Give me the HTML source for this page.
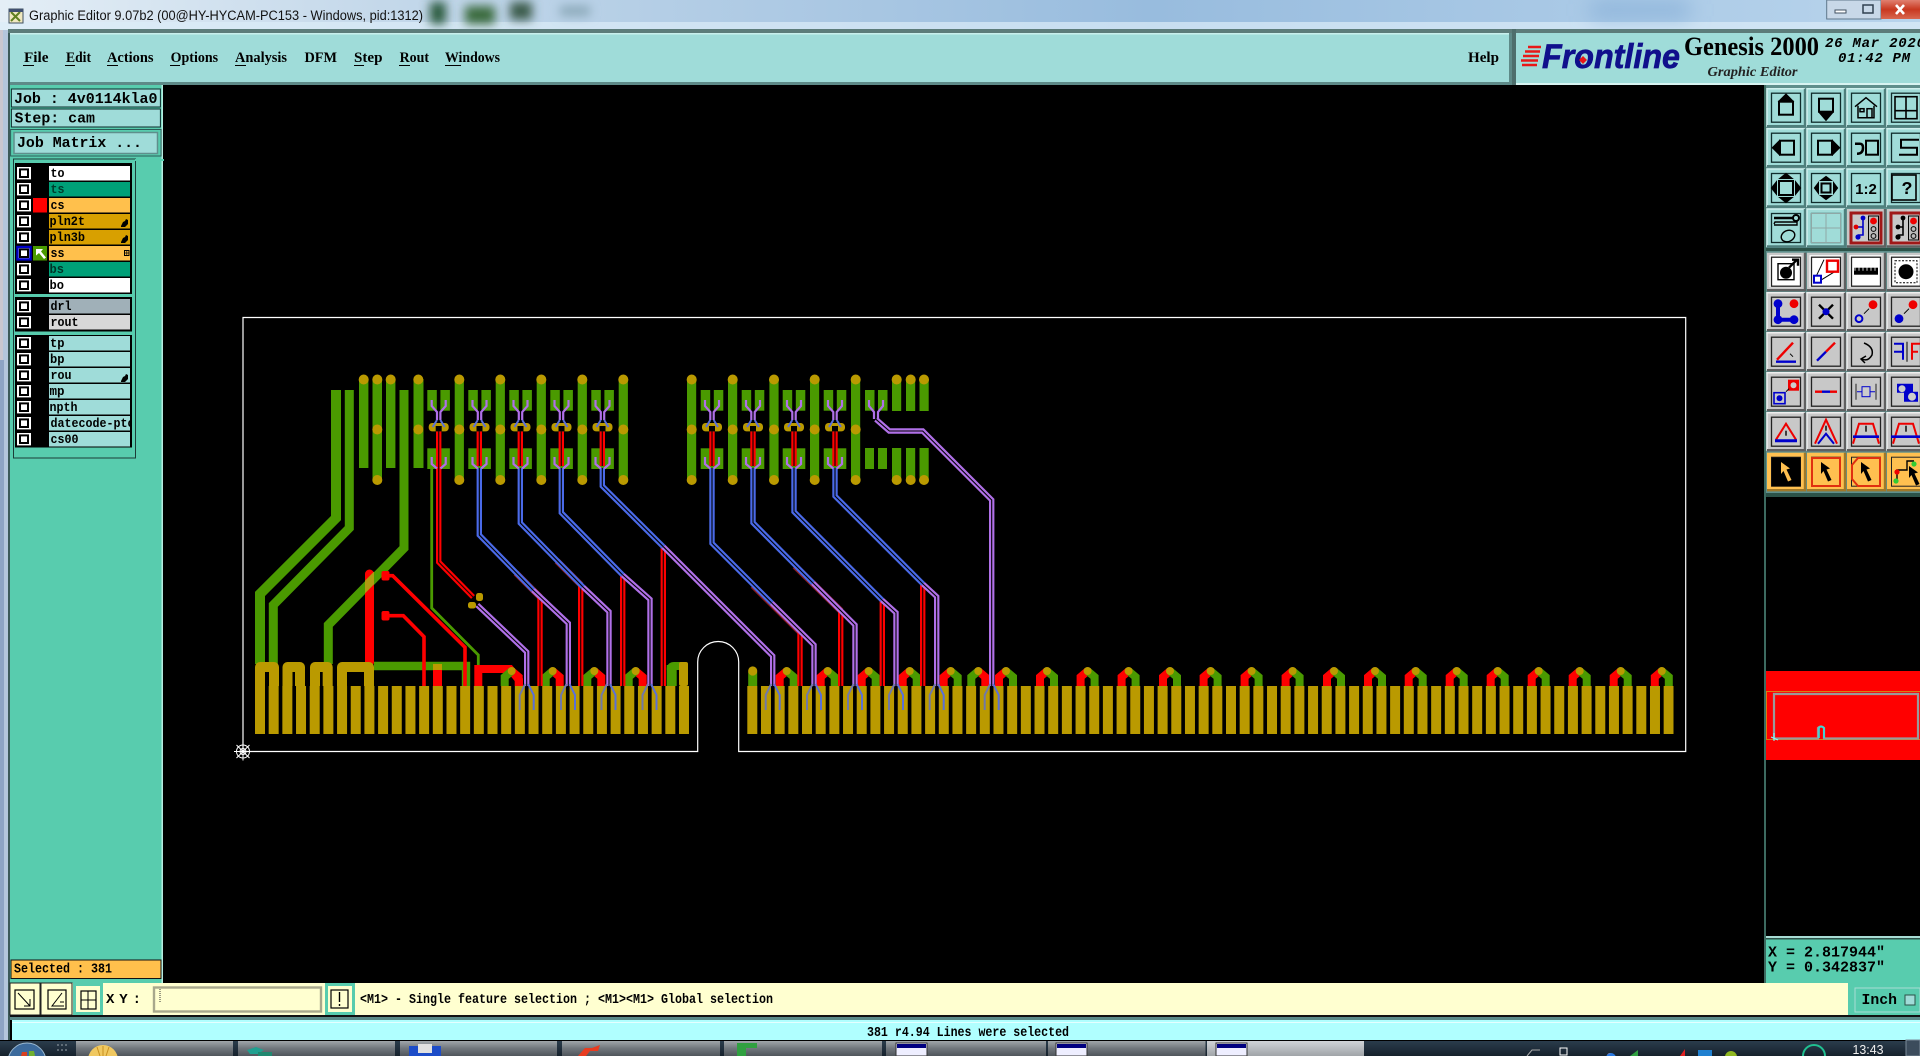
<!DOCTYPE html>
<html><head><meta charset="utf-8"><title>Graphic Editor</title>
<style>
html,body{margin:0;padding:0;background:#000;width:1920px;height:1056px;overflow:hidden}
svg{display:block}
.m{font-family:"Liberation Serif",serif;font-weight:bold;font-size:15px;fill:#000}
.c{font-family:"Liberation Mono",monospace;font-weight:bold;fill:#000}
.l{font-size:13px}
.n{fill:none}
</style></head><body>
<svg xmlns="http://www.w3.org/2000/svg" width="1920" height="1056" viewBox="0 0 1920 1056">
<defs>
<linearGradient id="tl" x1="0" y1="0" x2="1" y2="0"><stop offset="0" stop-color="#e4eef6"/><stop offset=".2" stop-color="#c4d8ea"/><stop offset=".6" stop-color="#98bcde"/><stop offset="1" stop-color="#b8d4ec"/></linearGradient>
<linearGradient id="tk" x1="0" y1="0" x2="0" y2="1"><stop offset="0" stop-color="#2c3e4e"/><stop offset="1" stop-color="#16212c"/></linearGradient>
<linearGradient id="tbb" x1="0" y1="0" x2="0" y2="1"><stop offset="0" stop-color="#a0a6aa"/><stop offset=".5" stop-color="#70767c"/><stop offset="1" stop-color="#50565c"/></linearGradient>
<linearGradient id="tbl" x1="0" y1="0" x2="0" y2="1"><stop offset="0" stop-color="#d0d4d8"/><stop offset="1" stop-color="#a0a4a8"/></linearGradient>
<linearGradient id="cl" x1="0" y1="0" x2="0" y2="1"><stop offset="0" stop-color="#e08070"/><stop offset=".5" stop-color="#c83820"/><stop offset="1" stop-color="#d86850"/></linearGradient>
<filter id="bl" x="-50%" y="-50%" width="200%" height="200%"><feGaussianBlur stdDeviation="5"/></filter>
<filter id="bl2" x="-50%" y="-100%" width="200%" height="300%"><feGaussianBlur stdDeviation="10"/></filter>
<clipPath id="lc"><rect x="49" y="160" width="81" height="290"/></clipPath>

<g id="cb"><rect x="0" y="0" width="14" height="12.4" fill="#fff"/><rect x="3" y="2.4" width="8" height="7.6" fill="none" stroke="#000" stroke-width="2"/></g>

<g id="bT"><rect width="38" height="38" fill="#a0dcd8"/><path d="M0 38V0H38" fill="none" stroke="#d0f0ee" stroke-width="1.5"/><path d="M0 37.5H38V0" fill="none" stroke="#4f7f7c" stroke-width="2.4"/><rect x="4.5" y="4.5" width="29" height="29" fill="none" stroke="#102c2c" stroke-width="1.3"/></g>
<g id="bG"><rect width="38" height="38" fill="#c8c8c8"/><path d="M0 38V0H38" fill="none" stroke="#eee" stroke-width="1.5"/><path d="M0 37.5H38V0" fill="none" stroke="#606060" stroke-width="2.4"/><rect x="4.5" y="4.5" width="29" height="29" fill="none" stroke="#222" stroke-width="1.3"/></g>
<g id="bW"><rect width="38" height="38" fill="#c8c8c8"/><path d="M0 37.5H38V0" fill="none" stroke="#606060" stroke-width="2.4"/><rect x="2.5" y="2.5" width="32" height="32" fill="#fff"/><rect x="4.5" y="4.5" width="29" height="29" fill="#fff" stroke="#222" stroke-width="1.3"/></g>
<g id="bO"><rect width="38" height="38" fill="#ffc050"/><path d="M0 37.5H38V0" fill="none" stroke="#a07828" stroke-width="2.4"/><rect x="4.5" y="4.5" width="29" height="29" fill="none" stroke="#222"/></g>
<g id="bR"><rect width="38" height="38" fill="#c8c8c8"/><path d="M0 37.5H38V0" fill="none" stroke="#606060" stroke-width="2.4"/><rect x="4" y="4" width="30" height="30" fill="none" stroke="#a01818" stroke-width="3"/></g>
<path id="ptr" d="M-5 -10L4 -3.5L0.5 -2.5L5.5 8L2 9.5L-2.5 -1L-5 2Z"/>

<g id="pu"><rect x="-11.3" y="390" width="9.5" height="20.7" fill="#4a9a00"/><rect x="1.8" y="390" width="9.5" height="20.7" fill="#4a9a00"/><rect x="-11.3" y="448.3" width="22.6" height="20.7" fill="#4a9a00"/></g>
<g id="pa">
<rect x="-10" y="423" width="20" height="8.4" rx="3.5" fill="#ba9a00"/><rect x="-3" y="426" width="6" height="5.4" fill="#000"/>
<path d="M-7 400V406L-1.7 412V420M7 400V406L1.7 412V420" class="n" stroke="#b070e8" stroke-width="2.2"/>
<path d="M-1.7 420L-6 427M1.7 420L6 427" class="n" stroke="#5a70d8" stroke-width="2"/>
<path d="M-7 457V464L-1.7 468.5M7 457V464L1.7 468.5" class="n" stroke="#b070e8" stroke-width="2.2"/>
</g>
<g id="fk"><path d="M-1.5 684L-7 695V710" class="n" stroke="#7078a8" stroke-width="2"/><path d="M1.5 684L7 695V710" class="n" stroke="#5a70d8" stroke-width="2"/></g>
<g id="au"><path d="M-7 686V677L0 671" class="n" stroke="#f00" stroke-width="8"/><path d="M7 686V677L0 671" class="n" stroke="#4a9a00" stroke-width="8"/><circle cx="0" cy="671" r="4" fill="#ba9a00"/></g>
<g id="ar"><path d="M7 686V677L0 671" class="n" stroke="#f00" stroke-width="8"/><path d="M-7 686V677L0 671" class="n" stroke="#4a9a00" stroke-width="8"/><circle cx="0" cy="671" r="4" fill="#ba9a00"/></g>

<g id="rp" fill="none">
<path d="M479.3 431V466M520.3 431V466M561.3 431V466M602.3 431V466M712 431V466M753 431V466M794 431V466M835 431V466"/>
<path d="M438.7 431V562L473 597"/>
<path d="M540 597V686"/>
<path d="M580.7 585V686"/>
<path d="M622.7 575V686"/>
<path d="M663.3 548V686"/>
<path d="M800 632V686"/>
<path d="M840.7 611V686"/>
<path d="M882.3 600.7V686"/>
<path d="M922.7 585V686"/>
</g>
<g id="pp" fill="none">
<path d="M477.3 605L526.7 652V686"/>
<path d="M533 590L568.3 623.3V686"/>
<path d="M583 587L609 611.7V686"/>
<path d="M622.7 575L650 599.3V686"/>
<path d="M663.3 546.7L772.7 656V686"/>
<path d="M771.7 603L814 645V686"/>
<path d="M813 583L855 625V686"/>
<path d="M882 600L896 612.7V686"/>
<path d="M923 584L936.7 596.7V686"/>
<path d="M876 419.3L889.3 431H922.7L991.7 500V686"/>
</g>
<g id="bp" fill="none">
<path d="M479.3 468V535L533 590"/>
<path d="M520.3 468V523L583 587"/>
<path d="M561.3 468V512.7L622.7 575"/>
<path d="M602.3 468V486L663.3 546.7"/>
<path d="M712 468V543.3L771.7 603"/>
<path d="M753 468V522.7L813 583"/>
<path d="M794 468V511.7L882 600"/>
<path d="M835 468V496L923 584"/>
</g>
</defs>

<!-- base -->
<rect width="1920" height="1056" fill="#000"/>
<rect width="1920" height="30" fill="url(#tl)"/>
<rect y="22" width="1920" height="8" fill="#dcecf8" opacity=".7"/>
<g filter="url(#bl)"><rect x="430" y="2" width="16" height="22" fill="#2a5a3c"/><rect x="465" y="6" width="30" height="18" fill="#3a6a3c"/><rect x="510" y="2" width="22" height="18" fill="#3a5a4a"/><rect x="560" y="6" width="30" height="10" fill="#8aa8b8"/></g>
<g filter="url(#bl2)"><rect x="1590" y="2" width="100" height="16" fill="#7ea8d4" opacity=".7"/></g>
<rect x="1826.7" y="0" width="54.3" height="19" fill="#c8d8e8" stroke="#60788c"/>
<rect x="1835" y="10" width="11" height="3" fill="#fff" stroke="#405060"/><rect x="1863" y="5" width="10" height="8" fill="none" stroke="#304050" stroke-width="1.5"/>
<rect x="1881" y="0" width="39" height="19" fill="url(#cl)"/>
<path d="M1896 5L1904 14M1904 5L1896 14" stroke="#fff" stroke-width="2.6"/>
<rect x="9" y="9" width="14" height="14" fill="#f0e8c0" stroke="#405060"/><path d="M11 12L20 21M20 12L11 21" stroke="#608020" stroke-width="2"/><rect x="9" y="9" width="14" height="3" fill="#405070"/>
<text x="29" y="20" font-family="Liberation Sans,sans-serif" font-size="13.5" fill="#111" textLength="394" lengthAdjust="spacingAndGlyphs">Graphic Editor 9.07b2 (00@HY-HYCAM-PC153 - Windows, pid:1312)</text>

<!-- left frame -->
<rect x="0" y="30" width="8" height="1010" fill="#b4c6dc"/>
<rect x="0" y="30" width="3" height="330" fill="#d8c8c8" opacity=".6"/>
<rect x="0" y="360" width="4" height="680" fill="#8ea4c4"/>
<rect x="8" y="30" width="2" height="1010" fill="#3c5a5a"/>

<!-- menu bar -->
<rect x="8" y="29" width="1912" height="4" fill="#5c7c7a"/>
<rect x="10" y="33" width="1502" height="51" fill="#9fdcd9"/>
<rect x="10" y="33" width="1502" height="1.5" fill="#c8efec"/>
<rect x="10" y="82" width="1502" height="3" fill="#5e8a88"/>
<rect x="1509" y="33" width="3" height="52" fill="#5e8a88"/>
<rect x="1512" y="29" width="4" height="56" fill="#4e6e6c"/>
<rect x="1516" y="33" width="404" height="51" fill="#9fdcd9"/>
<rect x="1516" y="83" width="404" height="2" fill="#d8f4f2"/>
<text class="m" x="24" y="62" textLength="24.5" lengthAdjust="spacingAndGlyphs">File</text>
<text class="m" x="66" y="62" textLength="25" lengthAdjust="spacingAndGlyphs">Edit</text>
<text class="m" x="107" y="62" textLength="46.5" lengthAdjust="spacingAndGlyphs">Actions</text>
<text class="m" x="170.6" y="62" textLength="47.5" lengthAdjust="spacingAndGlyphs">Options</text>
<text class="m" x="235" y="62" textLength="52" lengthAdjust="spacingAndGlyphs">Analysis</text>
<text class="m" x="304.5" y="62" textLength="32.5" lengthAdjust="spacingAndGlyphs">DFM</text>
<text class="m" x="354" y="62" textLength="28.5" lengthAdjust="spacingAndGlyphs">Step</text>
<text class="m" x="399.6" y="62" textLength="29.4" lengthAdjust="spacingAndGlyphs">Rout</text>
<text class="m" x="445" y="62" textLength="55" lengthAdjust="spacingAndGlyphs">Windows</text>
<path d="M23 65.5H34M65 65.5H75M107 65.5H118M170 65.5H180M235 65.5H246M354 65.5H364M399 65.5H410M445 65.5H461" stroke="#000" stroke-width="1"/>
<text class="m" x="1468" y="62" textLength="31" lengthAdjust="spacingAndGlyphs">Help</text>

<!-- logo -->
<path d="M1528 47H1541M1525 51.5H1540M1523 56H1539M1521 60.5H1538M1522 65H1537" stroke="#e81818" stroke-width="2.4"/>
<text x="1542" y="68" font-family="Liberation Sans,sans-serif" font-weight="bold" font-style="italic" font-size="34" fill="#10108c" stroke="#10108c" stroke-width=".7" textLength="138" lengthAdjust="spacingAndGlyphs">Frontline</text>
<path d="M1583 56L1587 60L1583 64L1579 60Z" fill="#e81818"/>
<text x="1684" y="55" font-family="Liberation Serif,serif" font-weight="bold" font-size="26" fill="#000" textLength="135" lengthAdjust="spacingAndGlyphs">Genesis 2000</text>
<text x="1707.5" y="76" font-family="Liberation Serif,serif" font-weight="bold" font-style="italic" font-size="14" fill="#222" textLength="90" lengthAdjust="spacingAndGlyphs">Graphic Editor</text>
<text class="c" x="1825" y="47" font-style="italic" font-size="14" textLength="100" lengthAdjust="spacing">26 Mar 2020</text>
<text class="c" x="1838" y="62" font-style="italic" font-size="14" textLength="72" lengthAdjust="spacing">01:42 PM</text>

<!-- left panel -->
<rect x="10" y="85" width="153" height="898" fill="#58ccae"/>
<rect x="161.5" y="85" width="1.5" height="898" fill="#b6ece0"/>
<rect x="11.4" y="89" width="149" height="18" fill="#9fdcd9" stroke="#0c2c2c"/>
<rect x="11.4" y="109" width="149" height="18" fill="#9fdcd9" stroke="#0c2c2c"/>
<text class="c" x="14" y="103" font-size="15" textLength="143.5" lengthAdjust="spacingAndGlyphs">Job : 4v0114kla0</text>
<text class="c" x="14.5" y="122.5" font-size="15" textLength="80.5" lengthAdjust="spacingAndGlyphs">Step: cam</text>
<rect x="10.6" y="129.5" width="150.5" height="26.5" fill="#58ccae" stroke="#2c5c58"/>
<rect x="14" y="132.5" width="143.5" height="21" fill="#9fdcd9" stroke="#5f8f8c" stroke-width="1.5"/>
<text class="c" x="17" y="147" font-size="15" textLength="125" lengthAdjust="spacingAndGlyphs">Job Matrix ...</text>

<rect x="13.5" y="159" width="122" height="299" fill="#58ccae" stroke="#1c3c38"/>
<rect x="135" y="159" width="29" height="2" fill="#58ccae"/>
<rect x="15" y="163" width="117" height="131" fill="#000"/>
<rect x="15" y="297" width="117" height="34.5" fill="#000"/>
<rect x="15" y="335" width="117" height="112.5" fill="#000"/>

<rect x="49" y="166" width="81" height="14.5" fill="#fff"/>
<rect x="49" y="182" width="81" height="14.5" fill="#00a078"/>
<rect x="49" y="198" width="81" height="14.5" fill="#ffc04c"/>
<rect x="49" y="214" width="81" height="14.5" fill="#d8a000"/>
<rect x="49" y="230" width="81" height="14.5" fill="#d8a000"/>
<rect x="49" y="246" width="81" height="14.5" fill="#ffc04c"/>
<rect x="49" y="262" width="81" height="14.5" fill="#00a078"/>
<rect x="49" y="278" width="81" height="14.5" fill="#fff"/>
<rect x="49" y="299" width="81" height="14.5" fill="#a0b0b8"/>
<rect x="49" y="315" width="81" height="14.5" fill="#d8d8d8"/>
<rect x="49" y="336" width="81" height="14.5" fill="#9fdcd9"/>
<rect x="49" y="352" width="81" height="14.5" fill="#9fdcd9"/>
<rect x="49" y="368" width="81" height="14.5" fill="#9fdcd9"/>
<rect x="49" y="384" width="81" height="14.5" fill="#9fdcd9"/>
<rect x="49" y="400" width="81" height="14.5" fill="#9fdcd9"/>
<rect x="49" y="416" width="81" height="14.5" fill="#9fdcd9"/>
<rect x="49" y="432" width="81" height="14.5" fill="#9fdcd9"/>
<g>
<use href="#cb" x="17" y="167"/><use href="#cb" x="17" y="183"/><use href="#cb" x="17" y="199"/><use href="#cb" x="17" y="215"/><use href="#cb" x="17" y="231"/>
<use href="#cb" x="17" y="263"/><use href="#cb" x="17" y="279"/><use href="#cb" x="17" y="300"/><use href="#cb" x="17" y="316"/><use href="#cb" x="17" y="337"/><use href="#cb" x="17" y="353"/><use href="#cb" x="17" y="369"/><use href="#cb" x="17" y="385"/><use href="#cb" x="17" y="401"/><use href="#cb" x="17" y="417"/><use href="#cb" x="17" y="433"/>
<use href="#cb" x="17" y="247"/><rect x="17.5" y="247" width="13" height="12.4" fill="none" stroke="#0000c8" stroke-width="2.4"/>
</g>
<rect x="33" y="198" width="14" height="14.5" fill="#f00"/>
<rect x="33" y="246" width="14" height="14.5" fill="#4a9a00"/>
<path d="M36 249H43L41 251.5L46 257.5L44 259L39 253L36 255.5Z" fill="#fff"/>
<g class="c l" clip-path="url(#lc)">
<text x="50.5" y="177" textLength="14" lengthAdjust="spacingAndGlyphs">to</text>
<text x="50.5" y="193" fill="#003c2c" textLength="14" lengthAdjust="spacingAndGlyphs">ts</text>
<text x="50.5" y="209" textLength="14" lengthAdjust="spacingAndGlyphs">cs</text>
<text x="49.5" y="225" textLength="35.5" lengthAdjust="spacingAndGlyphs">pln2t</text>
<text x="49.5" y="241" textLength="35.5" lengthAdjust="spacingAndGlyphs">pln3b</text>
<text x="50.5" y="257" textLength="14" lengthAdjust="spacingAndGlyphs">ss</text>
<text x="49.5" y="273" fill="#003428" textLength="14.5" lengthAdjust="spacingAndGlyphs">bs</text>
<text x="49.5" y="289" textLength="14.5" lengthAdjust="spacingAndGlyphs">bo</text>
<text x="50.5" y="310" textLength="21" lengthAdjust="spacingAndGlyphs">drl</text>
<text x="50.5" y="326" textLength="28" lengthAdjust="spacingAndGlyphs">rout</text>
<text x="50" y="347" textLength="14.5" lengthAdjust="spacingAndGlyphs">tp</text>
<text x="50" y="363" textLength="14.5" lengthAdjust="spacingAndGlyphs">bp</text>
<text x="50.5" y="379" textLength="21" lengthAdjust="spacingAndGlyphs">rou</text>
<text x="49.5" y="395" textLength="15" lengthAdjust="spacingAndGlyphs">mp</text>
<text x="49.5" y="411" textLength="28" lengthAdjust="spacingAndGlyphs">npth</text>
<text x="50.5" y="427" textLength="84" lengthAdjust="spacingAndGlyphs">datecode-ptc</text>
<text x="50.5" y="443" textLength="28" lengthAdjust="spacingAndGlyphs">cs00</text>
</g>
<path d="M121 226L123 222L125 221L126 219L128 220V224L125 227H121ZM121 242L123 238L125 237L126 235L128 236V240L125 243H121ZM121 381L123 377L125 376L126 374L128 375V379L125 382H121Z" fill="#000"/>
<rect x="124.5" y="250.5" width="4.5" height="5" fill="none" stroke="#000"/><path d="M125 253H128.5M126.8 251V255" stroke="#000" stroke-width=".7"/>

<rect x="11" y="960" width="150" height="18.5" fill="#ffc04c" stroke="#111"/>
<text class="c" x="14" y="972.5" font-size="14" textLength="98" lengthAdjust="spacingAndGlyphs">Selected : 381</text>

<!-- board outline -->
<path d="M243 317.5H1685.7V751.5H738.7V662A20.5 20.5 0 0 0 697.7 662V751.5H243Z" fill="none" stroke="#fff" stroke-width="1.2"/>
<g stroke="#fff" stroke-width="1" fill="none"><circle cx="243" cy="751.5" r="6.5"/><circle cx="243" cy="751.5" r="3"/><path d="M234 751.5H252M243 742.5V760.5M236.5 745L249.5 758M249.5 745L236.5 758"/></g>

<!-- gold fingers -->
<line x1="255" y1="710" x2="689" y2="710" stroke="#ba9a00" stroke-width="48" stroke-dasharray="10 3.677"/>
<line x1="747.3" y1="710" x2="1673.5" y2="710" stroke="#ba9a00" stroke-width="48" stroke-dasharray="10 3.677"/>

<!-- thick green -->
<g class="n" stroke="#4a9a00" stroke-linejoin="miter">
<path d="M336 390V518L260 594V664" stroke-width="10"/>
<path d="M349.3 390V528L273.3 605V664" stroke-width="9"/>
<path d="M404 390V548L328.3 625V664" stroke-width="9"/>
<path d="M431.7 468V608L478.3 655V686" stroke-width="2.8"/>
</g>
<path d="M374 666H466V686" class="n" stroke="#4a9a00" stroke-width="8.4"/>
<rect x="666.7" y="665" width="10" height="21" fill="#4a9a00"/>
<path d="M666.7 668Q668 662 674 662H686V670H666.7Z" fill="#4a9a00"/>

<!-- bars & pads -->
<g fill="#4a9a00">
<rect x="359" y="379" width="9.4" height="89"/><rect x="372.5" y="379" width="9.5" height="101"/><rect x="386" y="379" width="9.4" height="89"/><rect x="413.5" y="379" width="10" height="89"/>
<rect x="454.7" y="379" width="9.2" height="101"/><rect x="495.7" y="379" width="9.2" height="101"/><rect x="536.7" y="379" width="9.2" height="101"/><rect x="577.7" y="379" width="9.2" height="101"/><rect x="618.7" y="379" width="9.2" height="101"/>
<rect x="687" y="379" width="9.2" height="101"/><rect x="728" y="379" width="9.2" height="101"/><rect x="769.4" y="379" width="9.2" height="101"/><rect x="810" y="379" width="9.2" height="101"/><rect x="851" y="379" width="9.2" height="101"/>
<rect x="892" y="379" width="9.2" height="32"/><rect x="892" y="448" width="9.2" height="32"/>
<rect x="906" y="379" width="9.2" height="32"/><rect x="906" y="448" width="9.2" height="32"/>
<rect x="919.5" y="379" width="9.2" height="32"/><rect x="919.5" y="448" width="9.2" height="32"/>
</g>
<use href="#pu" x="438.6"/><use href="#pu" x="479.6"/><use href="#pu" x="520.6"/><use href="#pu" x="561.6"/><use href="#pu" x="602.6"/>
<use href="#pu" x="712"/><use href="#pu" x="753"/><use href="#pu" x="794"/><use href="#pu" x="835"/>
<g fill="#4a9a00"><rect x="865" y="390" width="9.5" height="20.7"/><rect x="878" y="390" width="9.5" height="20.7"/><rect x="865" y="448" width="9" height="21"/><rect x="878" y="448" width="9" height="21"/></g>
<g fill="#ba9a00">
<circle cx="363.7" cy="379.5" r="5"/><circle cx="377.3" cy="379.5" r="5"/><circle cx="390.7" cy="379.5" r="5"/><circle cx="418.3" cy="379.5" r="5"/><circle cx="459.3" cy="379.5" r="5"/><circle cx="500.3" cy="379.5" r="5"/><circle cx="541.3" cy="379.5" r="5"/><circle cx="582.3" cy="379.5" r="5"/><circle cx="623.3" cy="379.5" r="5"/><circle cx="691.7" cy="379.5" r="5"/><circle cx="732.7" cy="379.5" r="5"/><circle cx="774" cy="379.5" r="5"/><circle cx="814.7" cy="379.5" r="5"/><circle cx="855.7" cy="379.5" r="5"/><circle cx="896.7" cy="379.5" r="5"/><circle cx="910.7" cy="379.5" r="5"/><circle cx="924" cy="379.5" r="5"/>
<circle cx="377.3" cy="429.5" r="5"/><circle cx="418.3" cy="429.5" r="5"/><circle cx="459.3" cy="429.5" r="5"/><circle cx="500.3" cy="429.5" r="5"/><circle cx="541.3" cy="429.5" r="5"/><circle cx="582.3" cy="429.5" r="5"/><circle cx="623.3" cy="429.5" r="5"/><circle cx="691.7" cy="429.5" r="5"/><circle cx="732.7" cy="429.5" r="5"/><circle cx="774" cy="429.5" r="5"/><circle cx="814.7" cy="429.5" r="5"/><circle cx="855.7" cy="429.5" r="5"/>
<circle cx="377.3" cy="480" r="5"/><circle cx="459.3" cy="480" r="5"/><circle cx="500.3" cy="480" r="5"/><circle cx="541.3" cy="480" r="5"/><circle cx="582.3" cy="480" r="5"/><circle cx="623.3" cy="480" r="5"/><circle cx="691.7" cy="480" r="5"/><circle cx="732.7" cy="480" r="5"/><circle cx="774" cy="480" r="5"/><circle cx="814.7" cy="480" r="5"/><circle cx="855.7" cy="480" r="5"/><circle cx="896.7" cy="480" r="5"/><circle cx="910.7" cy="480" r="5"/><circle cx="924" cy="480" r="5"/>
</g>

<!-- red thick -->
<path d="M369.5 574V662" class="n" stroke="#f00" stroke-width="9" stroke-linecap="round"/>
<path d="M365 580.6L374 571.6V584.4L365 593.4Z" fill="#b09a10"/>
<rect x="381.5" y="611" width="8" height="9.5" rx="2" fill="#f00"/>
<rect x="381.5" y="571" width="8" height="9.5" rx="2" fill="#f00"/>
<path d="M385.7 575.7H392.7L465 647.3V686" class="n" stroke="#f00" stroke-width="3.6"/>
<path d="M385.7 615.7H403.3L424 636.7V686" class="n" stroke="#f00" stroke-width="3.6"/>
<rect x="433" y="670" width="9" height="16" fill="#f00"/>
<path d="M433 670Q437.5 658 442 670Z" fill="#ba9a00"/><rect x="433" y="664" width="9" height="6" fill="#ba9a00"/>
<path d="M478.3 686V669H510L519 680V686" class="n" stroke="#f00" stroke-width="8"/>
<rect x="482.5" y="673" width="16" height="13" fill="#000"/>

<!-- gold arches -->
<g class="n" stroke="#ba9a00" stroke-width="10" stroke-linejoin="round">
<path d="M260 686V667H274V686"/><path d="M287.5 686V667H300V686"/><path d="M315 686V667H327.7V686"/><path d="M342 686V667H369V686"/>
</g>
<rect x="679" y="662" width="9" height="24" rx="2" fill="#ba9a00"/>

<!-- arch units -->
<use href="#ar" x="511.7"/><use href="#ar" x="552.7"/><use href="#ar" x="594.3"/><use href="#ar" x="635.7"/>
<path d="M752.7 686V672" class="n" stroke="#4a9a00" stroke-width="9"/><circle cx="752.7" cy="671" r="4.6" fill="#ba9a00"/>
<use href="#au" x="786.7"/><use href="#au" x="827.7"/><use href="#au" x="868.7"/><use href="#au" x="909.7"/><use href="#au" x="950.7"/>
<use href="#ar" x="978.3"/>
<use href="#au" x="1006"/><use href="#au" x="1047"/><use href="#au" x="1087.6"/><use href="#au" x="1128.6"/><use href="#au" x="1170"/><use href="#au" x="1210.6"/><use href="#au" x="1251.6"/><use href="#au" x="1292.6"/><use href="#au" x="1334"/><use href="#au" x="1375"/><use href="#au" x="1415.7"/><use href="#au" x="1456.7"/><use href="#au" x="1497.7"/><use href="#au" x="1538.7"/><use href="#au" x="1579.7"/><use href="#au" x="1620.7"/><use href="#au" x="1661.8"/>

<!-- faint dark red shadows under diagonal traces -->
<g class="n" stroke="#8a1c1c" stroke-width="6.5">
<path d="M516 573L540 597"/><path d="M557 561L581 585"/><path d="M753 585.5L800 632"/><path d="M795 566L841 611"/>
</g>

<!-- selected traces -->
<use href="#rp" stroke="#f00" stroke-width="5.4"/><use href="#rp" stroke="#200" stroke-width="1.2"/>
<use href="#pp" stroke="#b070e8" stroke-width="5.4"/><use href="#pp" stroke="#000" stroke-width="1.1"/>
<use href="#bp" stroke="#4a6ae8" stroke-width="5.4"/><use href="#bp" stroke="#000" stroke-width="1.1"/>

<use href="#pa" x="438.7"/><use href="#pa" x="479.5"/><use href="#pa" x="520.5"/><use href="#pa" x="561.5"/><use href="#pa" x="602.5"/>
<use href="#pa" x="712"/><use href="#pa" x="753"/><use href="#pa" x="794"/><use href="#pa" x="835"/>
<path d="M869 400V406L874 412V419M883 400V406L878 412V419" class="n" stroke="#b070e8" stroke-width="2.2"/>

<use href="#fk" x="526.7"/><use href="#fk" x="568"/><use href="#fk" x="608.5"/><use href="#fk" x="649.5"/>
<use href="#fk" x="772.7"/><use href="#fk" x="814"/><use href="#fk" x="855"/><use href="#fk" x="896"/><use href="#fk" x="936.7"/><use href="#fk" x="991.7"/>

<rect x="476" y="593" width="7" height="8" rx="2.5" fill="#ba9a00"/><rect x="468" y="602" width="8" height="6.5" rx="2.5" fill="#ba9a00"/>

<!-- right panel -->
<rect x="1765" y="85" width="155" height="412" fill="#5f8f8c"/>
<rect x="1764" y="85" width="2" height="898" fill="#3c6a60"/>
<rect x="1766" y="248" width="154" height="3" fill="#2c5248"/>
<rect x="1766" y="493" width="154" height="4" fill="#2c5248"/>
<use href="#bT" x="1767" y="88.7"/><use href="#bT" x="1807" y="88.7"/><use href="#bT" x="1847" y="88.7"/><use href="#bT" x="1887" y="88.7"/>
<use href="#bT" x="1767" y="128.7"/><use href="#bT" x="1807" y="128.7"/><use href="#bT" x="1847" y="128.7"/><use href="#bT" x="1887" y="128.7"/>
<use href="#bT" x="1767" y="169"/><use href="#bT" x="1807" y="169"/><use href="#bT" x="1847" y="169"/><use href="#bT" x="1887" y="169"/>
<use href="#bT" x="1767" y="209"/><use href="#bT" x="1807" y="209"/><use href="#bR" x="1847" y="209"/><use href="#bR" x="1887" y="209"/>
<use href="#bW" x="1767" y="252.7"/><use href="#bW" x="1807" y="252.7"/><use href="#bW" x="1847" y="252.7"/><use href="#bW" x="1887" y="252.7"/>
<use href="#bG" x="1767" y="292.7"/><use href="#bG" x="1807" y="292.7"/><use href="#bG" x="1847" y="292.7"/><use href="#bG" x="1887" y="292.7"/>
<use href="#bG" x="1767" y="332.7"/><use href="#bG" x="1807" y="332.7"/><use href="#bG" x="1847" y="332.7"/><use href="#bG" x="1887" y="332.7"/>
<use href="#bG" x="1767" y="372.7"/><use href="#bG" x="1807" y="372.7"/><use href="#bG" x="1847" y="372.7"/><use href="#bG" x="1887" y="372.7"/>
<use href="#bG" x="1767" y="412.7"/><use href="#bG" x="1807" y="412.7"/><use href="#bG" x="1847" y="412.7"/><use href="#bG" x="1887" y="412.7"/>
<use href="#bO" x="1767" y="452.7"/><use href="#bO" x="1807" y="452.7"/><use href="#bO" x="1847" y="452.7"/><use href="#bO" x="1887" y="452.7"/>

<!-- icons row 1 -->
<g transform="translate(1786,107.7)" fill="none" stroke="#000" stroke-width="2"><rect x="-7" y="-6" width="14" height="13"/><path d="M0 -13L-6 -7H6Z" fill="#000"/></g>
<g transform="translate(1826,107.7)" fill="none" stroke="#000" stroke-width="2"><rect x="-7" y="-9" width="14" height="13"/><path d="M0 12L-6 5H6Z" fill="#000"/></g>
<g transform="translate(1866,107.7)" fill="none" stroke="#000" stroke-width="1.5"><path d="M-11 -1L0 -10L11 -1M-8 -2V10H8V-2"/><rect x="1" y="1" width="5" height="9"/><rect x="-6" y="1" width="4" height="3"/></g>
<g transform="translate(1906,107.7)" fill="none" stroke="#000" stroke-width="1.6"><rect x="-11" y="-11" width="22" height="22"/><path d="M-11 3H11M0 -11V11"/></g>
<!-- row 2 -->
<g transform="translate(1786,147.7)" fill="none" stroke="#000" stroke-width="2"><rect x="-6" y="-7" width="14" height="14"/><path d="M-13 0L-7 -6V6Z" fill="#000"/></g>
<g transform="translate(1826,147.7)" fill="none" stroke="#000" stroke-width="2"><rect x="-8" y="-7" width="14" height="14"/><path d="M13 0L7 -6V6Z" fill="#000"/></g>
<g transform="translate(1866,147.7)" fill="none" stroke="#000" stroke-width="2"><rect x="0" y="-7" width="12" height="14"/><path d="M-11 -4H-6Q-3 -4 -3 0Q-3 6 -9 6" stroke-width="2.5"/></g>
<g transform="translate(1906,147.7)" fill="none" stroke="#000" stroke-width="2"><path d="M13 -8H-5V0H11V7H-7"/></g>
<!-- row 3 -->
<g transform="translate(1786,188)" stroke="#000" stroke-width="2" fill="none"><rect x="-7" y="-7" width="14" height="14"/><path d="M0 -14L-5 -10H5ZM0 14L-5 10H5ZM-14 0L-10 -5V5ZM14 0L10 -5V5Z" fill="#000"/></g>
<g transform="translate(1826,188)" stroke="#000" stroke-width="2" fill="none"><rect x="-4.5" y="-4.5" width="9" height="9"/><path d="M0 -11L-4 -8H4ZM0 11L-4 8H4ZM-11 0L-8 -4V4ZM11 0L8 -4V4Z" fill="#000"/></g>
<text x="1866" y="194" text-anchor="middle" font-family="Liberation Sans,sans-serif" font-weight="bold" font-size="15" fill="#000">1:2</text>
<rect x="1892" y="175" width="24" height="25" fill="none" stroke="#000" stroke-width="1.6"/>
<text x="1907" y="194" text-anchor="middle" font-family="Liberation Mono,monospace" font-weight="bold" font-size="18" fill="#000">?</text>
<!-- row 4 -->
<g transform="translate(1786,228)" stroke="#000" fill="none" stroke-width="1.4"><path d="M-12 -10H8" stroke-width="2.5"/><circle cx="10" cy="-10" r="3" stroke-width="2"/><path d="M-12 -3H11V-6H-11L-12 -4"/><ellipse cx="2" cy="8" rx="7" ry="5.5" transform="rotate(-25 2 8)"/></g>
<g stroke="#8fa8a6"><path d="M1812 228H1840M1826 214V243" fill="none"/></g><rect x="1811.5" y="213.5" width="29" height="29" fill="#a0dcd8" stroke="#8fa8a6"/><path d="M1812 228H1840M1826 214V243" fill="none" stroke="#8fa8a6"/>
<g transform="translate(1866,228)"><path d="M-3 -10V-1H-10M-3 -1V7H-8" fill="none" stroke="#0000c8" stroke-width="1.6"/><circle cx="-3" cy="-10" r="2.4" fill="#0000c8"/><circle cx="-10" cy="-1" r="2.4" fill="#e00000"/><circle cx="-8" cy="9" r="2.6" fill="#0000c8"/><rect x="2.5" y="-12" width="10" height="24" fill="#bbb" stroke="#000"/><circle cx="7.5" cy="-7" r="3.4" fill="#e00"/><circle cx="7.5" cy="1" r="2.4" fill="none" stroke="#000"/><circle cx="7.5" cy="8" r="2.4" fill="none" stroke="#000"/></g>
<g transform="translate(1906,228)"><path d="M-3 -10V-1H-8M-3 -1V7H-8" fill="none" stroke="#000" stroke-width="1.6"/><circle cx="-3" cy="-10" r="2.4" fill="#000"/><circle cx="-8" cy="-1" r="2.4" fill="#000"/><circle cx="-8" cy="9" r="2.6" fill="#000"/><rect x="2.5" y="-12" width="10" height="24" fill="#bbb" stroke="#000"/><circle cx="7.5" cy="-7" r="3.4" fill="#e00"/><circle cx="7.5" cy="1" r="2.4" fill="none" stroke="#000"/><circle cx="7.5" cy="8" r="2.4" fill="none" stroke="#000"/></g>
<!-- row 5 -->
<g transform="translate(1786,271.7)"><rect x="-8" y="-8" width="16" height="16" fill="none" stroke="#000" stroke-width="1.4"/><circle cx="0" cy="1" r="6" fill="#000"/><path d="M3 -4L11 -12M6 -12H12V-6" fill="none" stroke="#000" stroke-width="2.4"/></g>
<g transform="translate(1826,271.7)"><path d="M-10 5L-2 -12M-6 9L12 -2" stroke="#000" fill="none"/><rect x="1" y="-11" width="11" height="11" fill="#fff" stroke="#e00" stroke-width="2.4"/><rect x="-12" y="4" width="7" height="7" fill="#fff" stroke="#00c" stroke-width="2"/></g>
<g transform="translate(1866,271.7)"><rect x="-12" y="-4" width="24" height="7" fill="#000"/><path d="M-11 -5V-1M-7 -5V-1M-3 -5V-1M1 -5V-1M5 -5V-1M9 -5V-1" stroke="#fff" stroke-width=".8"/></g>
<g transform="translate(1906,271.7)"><rect x="-11" y="-11" width="22" height="22" fill="none" stroke="#000" stroke-dasharray="2 1.5"/><circle r="7.5" fill="#000"/></g>
<!-- row 6 -->
<g transform="translate(1786,311.7)"><path d="M-8 -7V8H8" fill="none" stroke="#00c" stroke-width="4"/><circle cx="-8" cy="-8" r="4.4" fill="#00c"/><circle cx="8" cy="-8" r="4.4" fill="#e00"/><circle cx="-8" cy="8" r="4.4" fill="#00c"/><circle cx="8" cy="8" r="4.4" fill="#00c"/></g>
<g transform="translate(1826,311.7)"><path d="M-7 -7L7 7M7 -7L-7 7" stroke="#000" stroke-width="2.4"/><circle r="3.5" fill="#00c"/></g>
<g transform="translate(1866,311.7)"><circle cx="7" cy="-7" r="4.4" fill="#e00"/><circle cx="-7" cy="7" r="3.4" fill="none" stroke="#00c" stroke-width="2"/><path d="M-2 2L3 -3" stroke="#000"/></g>
<g transform="translate(1906,311.7)"><circle cx="7" cy="-7" r="4.4" fill="#e00"/><circle cx="-7" cy="7" r="4.4" fill="#00c"/><path d="M-2 2L3 -3" stroke="#000"/></g>
<!-- row 7 -->
<g transform="translate(1786,351.7)"><path d="M-9 8L7 -9" stroke="#e00" stroke-width="2.4"/><path d="M-10 10H10" stroke="#00c" stroke-width="2.4"/><path d="M4 2L7 5" stroke="#000"/></g>
<g transform="translate(1826,351.7)"><path d="M-9 9L0 0" stroke="#00c" stroke-width="2.4"/><path d="M0 0L9 -9" stroke="#e00" stroke-width="2.4"/></g>
<path d="M1864 343Q1874 347 1872 355Q1868 362 1862 359M1866 356L1861 359L1865 363" fill="none" stroke="#000" stroke-width="1.5"/>
<g transform="translate(1906,351.7)"><path d="M-12 -8H-3V8M-12 0H-4" fill="none" stroke="#00c" stroke-width="2"/><path d="M1 -10V10" stroke="#000"/><path d="M6 8V-8H14M6 0H12" fill="none" stroke="#e00" stroke-width="2"/></g>
<!-- row 8 -->
<g transform="translate(1786,391.7)"><rect x="2" y="-12" width="11" height="11" fill="#e00"/><circle cx="7.5" cy="-6.5" r="3" fill="#ccc"/><rect x="-12" y="1" width="11" height="11" fill="none" stroke="#00c" stroke-width="1.6"/><circle cx="-6.5" cy="6.5" r="3" fill="#00c"/><path d="M0 0L3 -3" stroke="#000"/></g>
<g transform="translate(1826,391.7)"><path d="M-11 0H-4" stroke="#e00" stroke-width="2.4"/><path d="M-4 0H4" stroke="#00c" stroke-width="2.4"/><path d="M4 0H11" stroke="#e00" stroke-width="2.4"/></g>
<g transform="translate(1866,391.7)"><path d="M-10 -8V8M10 -8V8" stroke="#222"/><path d="M-9 0H9" stroke="#00c"/><rect x="-4" y="-5" width="8" height="10" fill="#ccc" stroke="#00c"/></g>
<g transform="translate(1906,391.7)"><path d="M-9 -8H7V0H12V10H-2V1H-9Z" fill="#00c"/><circle cx="-4" cy="-3" r="3.5" fill="#ccc"/><circle cx="6" cy="5" r="4" fill="#ccc"/></g>
<!-- row 9 -->
<g transform="translate(1786,431.7)"><path d="M-10 8L0 -8L10 8" fill="none" stroke="#e00" stroke-width="2"/><path d="M-11 9H11" stroke="#00c" stroke-width="3"/><path d="M0 -1V4" stroke="#000" stroke-width="1.4"/></g>
<g transform="translate(1826,431.7)"><path d="M-11 12L0 -12L11 12" fill="none" stroke="#e00" stroke-width="2"/><path d="M-8 12L0 2L8 12" fill="none" stroke="#00c" stroke-width="2"/><path d="M0 -6V-1" stroke="#000" stroke-width="1.4"/></g>
<g transform="translate(1866,431.7)"><path d="M-13 12L-7 -8H7L13 12" fill="none" stroke="#e00" stroke-width="2"/><path d="M-13 5H13" stroke="#00c" stroke-width="2.6"/><path d="M0 -6V0" stroke="#000" stroke-width="1.4"/></g>
<g transform="translate(1906,431.7)"><path d="M-13 12L-7 -8H7L13 12" fill="none" stroke="#e00" stroke-width="2"/><path d="M-15 5H15" stroke="#00c" stroke-width="2.6"/><path d="M0 -6V0" stroke="#000" stroke-width="1.4"/></g>
<!-- row 10 -->
<rect x="1771.5" y="457.5" width="29" height="29" fill="#000"/>
<use href="#ptr" x="1786" y="472" fill="#ffc050"/>
<rect x="1812" y="458" width="28" height="28" fill="none" stroke="#e03010" stroke-width="2"/>
<use href="#ptr" x="1826" y="472" fill="#000"/>
<path d="M1858 458H1880V486H1858L1852 479V465Z" fill="none" stroke="#e03010" stroke-width="2"/>
<use href="#ptr" x="1866" y="472" fill="#000"/>
<path d="M1897 481V470H1907V461H1914" fill="none" stroke="#000" stroke-width="1.4"/><circle cx="1897" cy="472" r="2.6" fill="#e00"/><circle cx="1914" cy="464" r="2.6" fill="#3c3"/><circle cx="1896" cy="481" r="2.6" fill="#3c3"/><use href="#ptr" x="1914" y="476" fill="#000"/>

<!-- minimap -->
<rect x="1766" y="671" width="154" height="89" fill="#f00"/>
<rect x="1766.5" y="691.5" width="160" height="48" fill="none" stroke="#d88010" stroke-width="1"/>
<path d="M1774 694H1918V738.5H1824V728Q1821 725 1818 728V738.5H1774Z" fill="none" stroke="#9a9a9a" stroke-width="2.2"/>
<path d="M1819 738V728Q1821 725 1824 728V738" fill="none" stroke="#30e0e0" stroke-width="1.6"/>
<path d="M1771 737L1778 740M1774 733V741" stroke="#80ffff"/>

<!-- coord panel -->
<rect x="1766" y="936" width="154" height="47" fill="#58ccae"/>
<rect x="1766" y="936" width="154" height="2" fill="#a8dcd4"/><rect x="1766" y="938" width="154" height="1.5" fill="#2c5248"/>
<text class="c" x="1768" y="956.5" font-size="15" textLength="117" lengthAdjust="spacingAndGlyphs">X = 2.817944"</text>
<text class="c" x="1768" y="971.5" font-size="15" textLength="117" lengthAdjust="spacingAndGlyphs">Y = 0.342837"</text>

<!-- bottom command row -->
<rect x="10" y="983" width="1910" height="32" fill="#ffffd0"/>
<rect x="10" y="983" width="30" height="32" fill="#ffffd0" stroke="#222"/>
<rect x="41" y="983" width="31" height="32" fill="#ffffd0" stroke="#222"/>
<rect x="73" y="983" width="30" height="32" fill="#58ccae"/><rect x="76" y="986" width="24" height="26" fill="#ffffd0"/>
<rect x="15" y="990" width="19" height="19" fill="none" stroke="#000" stroke-width="1.2"/><path d="M18 993L30 1006M30 999V1006H24" fill="none" stroke="#000"/>
<rect x="48" y="990" width="18" height="19" fill="none" stroke="#000" stroke-width="1.2"/><path d="M62 993L52 1006H64M60 1002H64" fill="none" stroke="#000"/>
<rect x="81" y="991" width="15" height="18" fill="none" stroke="#000" stroke-width="1.2"/><path d="M81 1000H96M88 991V1009" stroke="#000"/>
<text class="c" x="106" y="1003" font-size="14" textLength="35" lengthAdjust="spacing">X Y :</text>
<rect x="151" y="984" width="173" height="31" fill="#ffffd0"/>
<rect x="154" y="987.5" width="167" height="24" fill="#ffffd0" stroke="#a8a88c" stroke-width="2.4"/>
<path d="M160 989V1003" stroke="#333" stroke-dasharray="1 1"/>
<rect x="325" y="983" width="30" height="32" fill="#58ccae"/><rect x="328" y="986" width="24" height="26" fill="#ffffd0"/>
<rect x="331" y="990" width="17" height="18" fill="none" stroke="#000" stroke-width="1.2"/><path d="M339.5 992V1002M339.5 1004V1006" stroke="#000" stroke-width="1.4"/>
<text class="c" x="360" y="1003" font-size="14" textLength="413" lengthAdjust="spacingAndGlyphs">&lt;M1&gt; - Single feature selection ; &lt;M1&gt;&lt;M1&gt; Global selection</text>
<rect x="1848" y="983" width="72" height="32" fill="#58ccae"/>
<rect x="1855" y="988" width="65" height="24" fill="#58ccae" stroke="#a8dcd4"/>
<text class="c" x="1861.5" y="1004" font-size="15" textLength="35.5" lengthAdjust="spacingAndGlyphs">Inch</text>
<rect x="1905" y="995" width="10" height="10" fill="#a0dcd8" stroke="#2c5248"/>

<!-- status -->
<rect x="10" y="1015" width="1910" height="2" fill="#111"/>
<rect x="10" y="1017" width="1910" height="3" fill="#5a8a88"/>
<rect x="12" y="1020" width="1908" height="20" fill="#b0ffff"/>
<rect x="12" y="1022" width="1908" height="1" fill="#e4ffff"/>
<text class="c" x="867" y="1036" font-size="14" textLength="202" lengthAdjust="spacingAndGlyphs">381 r4.94 Lines were selected</text>

<!-- taskbar -->
<rect x="0" y="1040" width="1920" height="16" fill="url(#tk)"/>
<rect x="0" y="1040" width="1920" height="1" fill="#000"/>
<rect x="76" y="1041" width="157" height="15" fill="url(#tbb)"/>
<rect x="238" y="1041" width="157" height="15" fill="url(#tbb)"/>
<rect x="400" y="1041" width="157" height="15" fill="url(#tbb)"/>
<rect x="562" y="1041" width="158" height="15" fill="url(#tbb)"/>
<rect x="724" y="1041" width="158" height="15" fill="url(#tbb)"/>
<rect x="886" y="1041" width="160" height="15" fill="url(#tbb)"/>
<rect x="1048" y="1041" width="157.5" height="15" fill="url(#tbb)"/>
<rect x="1207" y="1041" width="157" height="15" fill="url(#tbl)"/>
<circle cx="27" cy="1062" r="19" fill="#3c6a9c" stroke="#9ab8d0"/><path d="M22 1052H27V1056H21Z" fill="#d84020"/>
<path d="M29 1051H34L35 1056H29Z" fill="#70b030"/>
<g fill="#8a949c"><circle cx="58" cy="1045" r=".9"/><circle cx="62" cy="1045" r=".9"/><circle cx="66" cy="1045" r=".9"/><circle cx="58" cy="1050" r=".9"/><circle cx="62" cy="1050" r=".9"/><circle cx="66" cy="1050" r=".9"/></g>
<circle cx="103" cy="1060" r="15" fill="#f0c860"/><path d="M103 1046V1056M97 1047L100 1056M109 1047L106 1056" stroke="#c89020"/>
<path d="M247 1050L256 1047L264 1050L258 1054H250Z" fill="#20a090"/><path d="M258 1052H272V1056H258Z" fill="#208870"/>
<path d="M409 1046H441V1056H409Z" fill="#1c4cc8"/><rect x="418" y="1044" width="14" height="9" fill="#e0e0e0"/>
<path d="M578 1056L585 1048H592L600 1045L598 1051H590L586 1056Z" fill="#e83c20"/>
<path d="M737 1043H757V1048H746V1056H737Z" fill="#30a040"/>
<rect x="896" y="1043" width="31" height="13" fill="#eef" stroke="#333"/><rect x="897" y="1044" width="29" height="4" fill="#000080"/>
<rect x="1056" y="1043" width="31" height="13" fill="#eef" stroke="#333"/><rect x="1057" y="1044" width="29" height="4" fill="#000080"/>
<rect x="1216" y="1043" width="31" height="13" fill="#eef" stroke="#333"/><rect x="1217" y="1044" width="29" height="4" fill="#000080"/>
<path d="M1527 1056L1532 1050H1540" fill="none" stroke="#aaa"/><rect x="1560" y="1048" width="7" height="7" fill="none" stroke="#fff"/>
<circle cx="1610" cy="1056" r="3" fill="#e8a0c0"/><circle cx="1611" cy="1058" r="5" fill="#2878e0"/><path d="M1630 1056L1638 1050V1056Z" fill="#30a040"/><path d="M1680 1056L1685 1049V1056Z" fill="#e02020"/><rect x="1698" y="1050" width="14" height="6" fill="#2080d0"/><circle cx="1731" cy="1057" r="6" fill="#90b820"/>
<path d="M1803 1056A11 11 0 0 1 1825 1056" fill="none" stroke="#20c090" stroke-width="2"/>
<text x="1852.5" y="1054" font-family="Liberation Sans,sans-serif" font-size="13" fill="#f0f0f0" textLength="31" lengthAdjust="spacingAndGlyphs">13:43</text>
<rect x="1906" y="1040" width="14" height="16" fill="#3c4c5c" stroke="#7a8a98"/>
</svg>
</body></html>
